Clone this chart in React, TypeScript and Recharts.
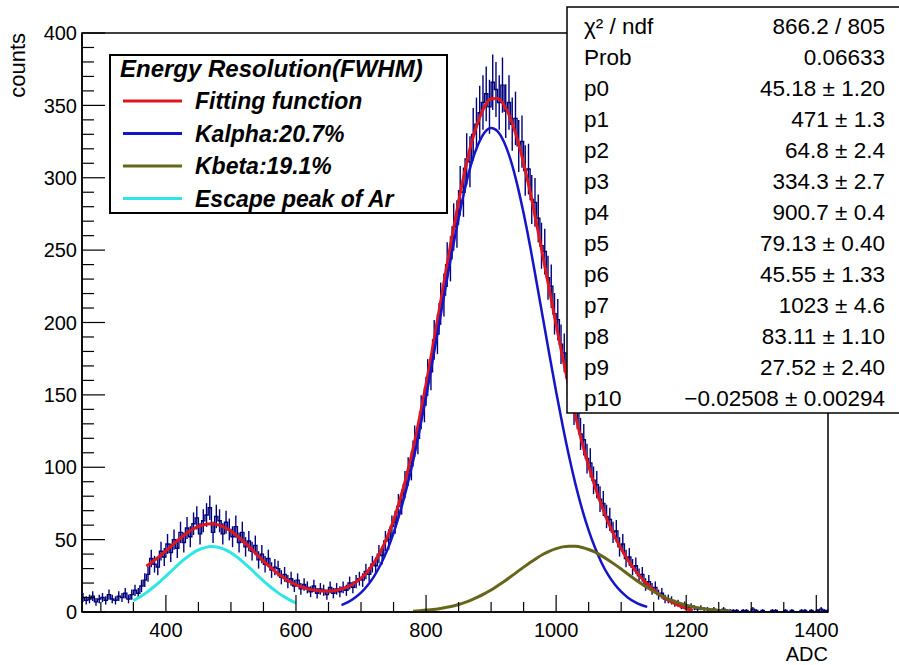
import React from 'react';
import { ComposedChart, Line, XAxis, YAxis, ErrorBar, ReferenceArea } from 'recharts';

// histogram, 5 ADC bins starting at 270
const HIST_START = 270;
const HIST_BIN = 5;
const histCounts = [
  10, 8, 9, 11, 7, 9, 10, 8, 12, 9, 8, 11, 10, 13, 9, 12,
  15, 13, 18, 22,
  26, 37, 33, 31, 42, 38, 47, 41, 50, 44, 55, 48, 58, 52, 61, 65, 54, 63, 67, 72,
  55, 66, 63, 54, 62, 57, 52, 59, 48, 55, 45, 49, 42, 46, 36, 40, 33, 37, 29, 31,
  30, 24, 26, 21, 23, 18, 22, 16, 19, 17, 14, 18, 13, 16, 15, 12, 17, 13, 16, 14,
  17, 15, 20, 17, 21, 23, 22, 28, 26, 33, 32, 40, 39, 49, 50, 59, 62, 73, 76, 88,
  97, 101, 118, 120, 138, 143, 162, 166, 188, 192, 213, 219, 240, 244, 266, 268, 291, 290, 313, 311,
  330, 337, 345, 352, 358, 349, 366, 361, 352, 364, 346, 352, 337, 341, 322, 325, 305, 306, 285, 283,
  272, 253, 249, 231, 225, 206, 202, 185, 179, 162, 157, 141, 138, 123, 119, 106, 103, 91, 88, 78,
  75, 66, 64, 55, 56, 45, 47, 37, 38, 31, 32, 25, 26, 19, 21, 16, 17, 12, 13, 9,
  9, 8, 6, 6, 4, 5, 3, 4, 3, 2, 3, 2, 2, 1, 2, 1, 1, 2, 1, 1,
  1,
  1, 0, 1, 1, 0, 2, 1, 0, 1, 0, 0, 1, 1, 0, 0, 1, 0, 1, 0, 0, 1, 1, 0, 1, 0, 1, 2, 1, 1,
];

// fitted curves, sampled every 10 ADC
const CURVE_STEP = 10;
const totalStart = 370;
const totalFit = [
  31.6, 34.9, 38.4, 42.3, 46.2, 50.2, 53.7, 56.8, 59.1, 60.5,
  60.9, 60.2, 58.5, 55.9, 52.4, 48.4, 44.1, 39.6, 35.2, 31.1,
  27.3, 24.0, 21.1, 18.9, 17.1, 15.8, 14.9, 14.5, 14.4, 14.9,
  15.9, 17.5, 20.0, 23.4, 28.0, 34.1, 41.8, 51.5, 63.4, 77.7,
  94.1, 112.8, 134.2, 157.3, 182.3, 208.0, 234.1, 259.6, 283.4, 305.5,
  324.4, 338.7, 349.2, 354.5, 354.8, 350.1, 340.8, 327.2, 310.1, 290.3,
  268.0, 245.0, 221.7, 198.4, 176.0, 154.6, 134.9, 116.9, 100.8, 86.4,
  73.4, 62.0, 52.2, 43.6, 36.1, 29.6, 24.1, 19.3, 15.2, 11.6,
  8.7, 6.3, 4.2, 2.4, 0.9,
];
const kalphaStart = 670;
const kalpha = [
  4.8, 6.8, 9.7, 13.4, 18.3, 24.6, 32.6, 42.4, 54.5, 68.9,
  85.4, 104.2, 125.6, 148.6, 173.4, 198.7, 224.3, 249.1, 272.0, 292.9,
  310.3, 322.9, 331.3, 334.3, 332.0, 324.5, 312.3, 295.6, 275.4, 252.7,
  227.6, 202.2, 176.9, 152.1, 128.8, 107.2, 87.8, 70.9, 56.4, 44.2,
  33.9, 25.6, 19.1, 14.0, 10.1, 7.2, 5.0, 3.5,
];
const kbetaStart = 780;
const kbeta = [
  0.6, 0.9, 1.3, 1.7, 2.3, 3.1, 4.0, 5.2, 6.7, 8.4,
  10.4, 12.7, 15.2, 18.1, 21.1, 24.3, 27.7, 31.0, 34.2, 37.2,
  39.9, 42.1, 43.8, 45.0, 45.5, 45.4, 44.6, 43.2, 41.3, 38.8,
  36.0, 32.9, 29.7, 26.3, 23.0, 19.9, 16.9, 14.2, 11.7, 9.5,
  7.7, 6.1, 4.7, 3.6, 2.7, 2.0, 1.5, 1.1, 0.8, 0.6,
];
const escapeStart = 350;
const escapePeak = [
  7.9, 10.4, 13.4, 16.9, 20.7, 24.8, 29.0, 33.2, 37.0, 40.3,
  42.9, 44.5, 45.2, 44.7, 43.3, 40.9, 37.7, 33.9, 29.9, 25.6,
  21.5, 17.6, 14.1, 11.0, 8.4, 6.2,
];

const xTicks = [300, 350, 400, 450, 500, 550, 600, 650, 700, 750, 800, 850, 900, 950, 1000, 1050, 1100, 1150, 1200, 1250, 1300, 1350, 1400];
const xLabels = [400, 600, 800, 1000, 1200, 1400];
const yTicks = [
  0, 10, 20, 30, 40, 50, 60, 70, 80, 90, 100, 110, 120, 130, 140, 150, 160, 170, 180, 190, 200,
  210, 220, 230, 240, 250, 260, 270, 280, 290, 300, 310, 320, 330, 340, 350, 360, 370, 380, 390, 400,
];

const legendTitle = 'Energy Resolution(FWHM)';
const legendItems = [
  { name: 'Fitting function', color: '#e0161e' },
  { name: 'Kalpha:20.7%', color: '#1414c8' },
  { name: 'Kbeta:19.1%', color: '#66661a' },
  { name: 'Escape peak of Ar', color: '#2ee6e6' },
];

const statLabels = ['χ² / ndf', 'Prob', 'p0', 'p1', 'p2', 'p3', 'p4', 'p5', 'p6', 'p7', 'p8', 'p9', 'p10'];
const statValues = [
  '866.2 / 805', '0.06633', '45.18 ± 1.20', '471 ± 1.3', '64.8 ± 2.4', '334.3 ± 2.7',
  '900.7 ± 0.4', '79.13 ± 0.40', '45.55 ± 1.33', '1023 ± 4.6', '83.11 ± 1.10',
  '27.52 ± 2.40', '−0.02508 ± 0.00294',
];

const X_MIN = 271;
const X_MAX = 1418;

const histData = histCounts.map((c, i) => ({
  x: HIST_START + HIST_BIN * (i + 0.5),
  y: c,
  err: Math.sqrt(c),
}));
const toCurve = (start: number, vals: number[]) =>
  vals.map((v, i) => ({ x: start + CURVE_STEP * i, y: v }));

const YTick = (props: any) => {
  const { x, y, payload } = props;
  const v = payload.value;
  const major = v % 50 === 0;
  return (
    <g>
      <line x1={x} y1={y} x2={x + (major ? 23 : 12)} y2={y} stroke="#000" strokeWidth={1.2} />
      {major && (
        <text x={x - 5} y={y} dy="0.36em" textAnchor="end" fontSize={20} fill="#000">
          {v}
        </text>
      )}
    </g>
  );
};

const XTick = (props: any) => {
  const { x, y, payload } = props;
  const v = payload.value;
  const labeled = xLabels.includes(v);
  return (
    <g>
      <line x1={x} y1={y} x2={x} y2={y - (labeled ? 17 : 10)} stroke="#000" strokeWidth={1.2} />
      {labeled && (
        <text x={x} y={y + 25} textAnchor="middle" fontSize={20} fill="#000">
          {v}
        </text>
      )}
    </g>
  );
};

export default function App() {
  return (
    <div
      style={{
        position: 'absolute',
        left: 0,
        top: 0,
        width: 899,
        height: 665,
        background: '#fff',
        fontFamily: "'Liberation Sans', Arial, Helvetica, sans-serif",
      }}
    >
      <ComposedChart width={899} height={665} margin={{ top: 33, right: 71, bottom: 52, left: 81 }}>
        <XAxis
          type="number"
          dataKey="x"
          domain={[X_MIN, X_MAX]}
          allowDataOverflow
          ticks={xTicks}
          tick={(p: any) => <XTick {...p} />}
          tickLine={false}
          tickSize={0}
          tickMargin={0}
          height={1}
          interval={0}
          axisLine={{ stroke: '#000', strokeWidth: 1.5 }}
        />
        <YAxis
          type="number"
          domain={[0, 400]}
          allowDataOverflow
          ticks={yTicks}
          tick={(p: any) => <YTick {...p} />}
          tickLine={false}
          tickSize={0}
          tickMargin={0}
          width={1}
          interval={0}
          axisLine={{ stroke: '#000', strokeWidth: 1.5 }}
        />
        <ReferenceArea x1={X_MIN} x2={X_MAX} y1={0} y2={400} fill="none" stroke="#000" strokeWidth={1.5} />
        <Line
          data={histData}
          dataKey="y"
          type="step"
          stroke="#00007a"
          strokeWidth={1.4}
          dot={false}
          activeDot={false}
          isAnimationActive={false}
        >
          <ErrorBar dataKey="err" direction="y" width={0} stroke="#00007a" strokeWidth={1.4} />
        </Line>
        <Line data={toCurve(totalStart, totalFit)} dataKey="y" type="monotone" stroke={legendItems[0].color} strokeWidth={3} dot={false} activeDot={false} isAnimationActive={false} />
        <Line data={toCurve(kalphaStart, kalpha)} dataKey="y" type="monotone" stroke={legendItems[1].color} strokeWidth={2.5} dot={false} activeDot={false} isAnimationActive={false} />
        <Line data={toCurve(kbetaStart, kbeta)} dataKey="y" type="monotone" stroke={legendItems[2].color} strokeWidth={3} dot={false} activeDot={false} isAnimationActive={false} />
        <Line data={toCurve(escapeStart, escapePeak)} dataKey="y" type="monotone" stroke={legendItems[3].color} strokeWidth={3} dot={false} activeDot={false} isAnimationActive={false} />
      </ComposedChart>

      <svg width={899} height={665} style={{ position: 'absolute', left: 0, top: 0, pointerEvents: 'none' }}>
        <text x={25} y={33} transform="rotate(-90 25 33)" textAnchor="end" fontSize={22} fill="#000">
          counts
        </text>
        <text x={828} y={661} textAnchor="end" fontSize={20} fill="#000">
          ADC
        </text>

        <rect x={110} y={55} width={337} height={158} fill="#fff" stroke="#000" strokeWidth={2} />
        <text x={120} y={77} fontSize={24} fontWeight="bold" fontStyle="italic" fill="#000">
          {legendTitle}
        </text>
        {legendItems.map((it, i) => {
          const cy = 101 + i * 32.5;
          return (
            <g key={it.name}>
              <line x1={123} y1={cy} x2={182} y2={cy} stroke={it.color} strokeWidth={3} />
              <text x={195} y={cy + 8} fontSize={23} fontWeight="bold" fontStyle="italic" fill="#000">
                {it.name}
              </text>
            </g>
          );
        })}

        <rect x={567} y={7} width={340} height={406} fill="#fff" stroke="#000" strokeWidth={1.5} />
        {statLabels.map((lab, i) => (
          <g key={lab}>
            <text x={584} y={34 + 31 * i} fontSize={22.5} fill="#000">
              {lab}
            </text>
            <text x={885} y={34 + 31 * i} fontSize={22.5} textAnchor="end" fill="#000">
              {statValues[i]}
            </text>
          </g>
        ))}
      </svg>
    </div>
  );
}
